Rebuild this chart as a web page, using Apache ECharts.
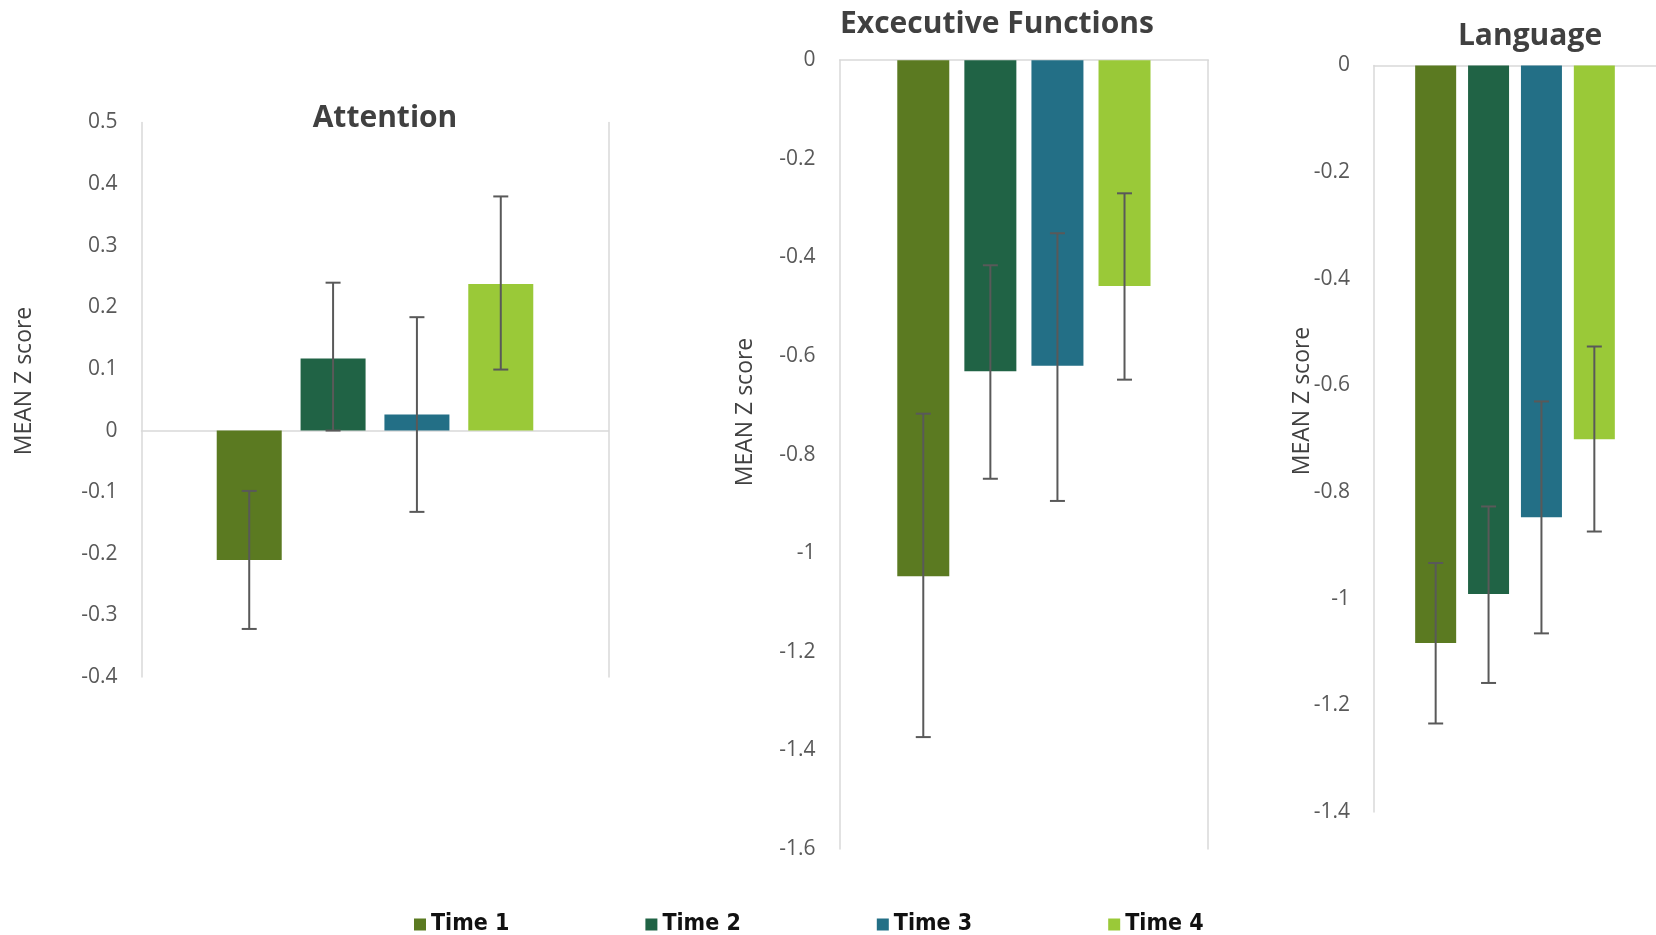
<!DOCTYPE html>
<html>
<head>
<meta charset="utf-8">
<script src="https://cdn.jsdelivr.net/npm/echarts@6/dist/echarts.min.js"></script>
<style>
html,body{margin:0;padding:0;background:#fff;}
#chart{width:1656px;height:935px;}
</style>
</head>
<body>
<div id="chart"></div>
<script>
// ---- data ----
var seriesNames = ['Time 1', 'Time 2', 'Time 3', 'Time 4'];
var panelTitles = ['Attention', 'Excecutive Functions', 'Language'];
var yAxisTitle = 'MEAN Z score';

var attentionMeans = [-0.21, 0.117, 0.026, 0.238];
var attentionLow   = [-0.322, 0.0, -0.132, 0.099];
var attentionHigh  = [-0.098, 0.24, 0.184, 0.38];

var execMeans = [-1.047, -0.631, -0.620, -0.458];
var execLow   = [-1.373, -0.849, -0.894, -0.648];
var execHigh  = [-0.717, -0.416, -0.351, -0.270];

var langMeans = [-1.083, -0.991, -0.847, -0.701];
var langLow   = [-1.234, -1.158, -1.065, -0.874];
var langHigh  = [-0.933, -0.827, -0.630, -0.527];

var attentionTicks = {min: -0.4, max: 0.5, interval: 0.1};
var execTicks = {min: -1.6, max: 0, interval: 0.2};
var langTicks = {min: -1.4, max: 0, interval: 0.2};

// ---- styles ----
var colors = ['#5B7A21', '#206345', '#236F86', '#9AC938'];
var axisGray = '#D9D9D9';
var labelGray = '#595959';
var errColor = '#595959';

var panels = [
  {title: panelTitles[0], means: attentionMeans, low: attentionLow, high: attentionHigh, ticks: attentionTicks,
   grid: {left: 141.5, top: 122.5, width: 467, height: 554.5}, barWidth: 65, gap: 0.29, rightLine: true,
   titlePos: [385, 118], namePos: [24, 381]},
  {title: panelTitles[1], means: execMeans, low: execLow, high: execHigh, ticks: execTicks,
   grid: {left: 839.6, top: 60.2, width: 368.6, height: 788.8}, barWidth: 52, gap: 0.29, rightLine: true,
   titlePos: [997, 24], namePos: [745, 412]},
  {title: panelTitles[2], means: langMeans, low: langLow, high: langHigh, ticks: langTicks,
   grid: {left: 1374, top: 65.5, width: 289, height: 746.5}, barWidth: 41, gap: 0.29, rightLine: false,
   titlePos: [1530, 36], namePos: [1302, 401]}
];

function fmt(v) { return String(Math.round(v * 10) / 10); }

var grids = [], xAxes = [], yAxes = [], series = [], graphics = [];

panels.forEach(function (p, k) {
  grids.push(p.grid);
  xAxes.push({
    type: 'category', gridIndex: k, data: ['x'],
    axisLine: {show: true, onZero: true, lineStyle: {color: axisGray, width: 1.5}},
    axisTick: {show: false}, axisLabel: {show: false}, splitLine: {show: false}
  });
  var leftIdx = yAxes.length;
  yAxes.push({
    type: 'value', gridIndex: k, min: p.ticks.min, max: p.ticks.max, interval: p.ticks.interval,
    axisLine: {show: true, lineStyle: {color: axisGray, width: 1.5}},
    axisTick: {show: false}, splitLine: {show: false},
    axisLabel: {color: labelGray, fontSize: 21, fontFamily: 'Open Sans', margin: 24, formatter: fmt,
                showMinLabel: true, showMaxLabel: true}
  });
  if (p.rightLine) {
    yAxes.push({
      type: 'value', gridIndex: k, position: 'right', min: p.ticks.min, max: p.ticks.max, interval: p.ticks.interval,
      axisLine: {show: true, lineStyle: {color: axisGray, width: 1.5}},
      axisTick: {show: false}, splitLine: {show: false}, axisLabel: {show: false}
    });
  }
  seriesNames.forEach(function (name, i) {
    series.push({
      type: 'bar', name: name, xAxisIndex: k, yAxisIndex: leftIdx,
      data: [p.means[i]], barWidth: p.barWidth, barGap: (p.gap * 100) + '%',
      itemStyle: {color: colors[i]}, z: 2
    });
  });
  var errData = p.low.map(function (lo, i) { return [0, lo, p.high[i]]; });
  (function (bw, gap) {
    series.push({
      type: 'custom', name: 'err' + k, xAxisIndex: k, yAxisIndex: leftIdx,
      data: errData, encode: {x: 0, y: [1, 2]}, z: 10, clip: false,
      renderItem: function (params, api) {
        var i = params.dataIndex;
        var a = api.coord([api.value(0), api.value(1)]);
        var b = api.coord([api.value(0), api.value(2)]);
        var off = (i - 1.5) * bw * (1 + gap);
        var x = a[0] + off, c = 7.5;
        var st = {stroke: errColor, lineWidth: 2};
        return {type: 'group', children: [
          {type: 'line', shape: {x1: x, y1: a[1], x2: x, y2: b[1]}, style: st},
          {type: 'line', shape: {x1: x - c, y1: a[1], x2: x + c, y2: a[1]}, style: st},
          {type: 'line', shape: {x1: x - c, y1: b[1], x2: x + c, y2: b[1]}, style: st}
        ]};
      }
    });
  })(p.barWidth, p.gap);

  graphics.push({
    type: 'text', x: p.titlePos[0], y: p.titlePos[1],
    style: {text: p.title, fill: '#404040', font: 'bold 30px "Open Sans"', textAlign: 'center', textVerticalAlign: 'middle'}
  });
  graphics.push({
    type: 'text', x: p.namePos[0], y: p.namePos[1], rotation: Math.PI / 2,
    style: {text: yAxisTitle, fill: '#404040', font: '23px "Open Sans"', textAlign: 'center', textVerticalAlign: 'middle'}
  });
});

var chart = echarts.init(document.getElementById('chart'), null, {renderer: 'canvas'});
chart.setOption({
  backgroundColor: '#ffffff',
  animation: false,
  grid: grids,
  xAxis: xAxes,
  yAxis: yAxes,
  series: series,
  graphic: graphics,
  legend: {
    data: seriesNames, left: 409, top: 908, icon: 'rect', itemWidth: 12, itemHeight: 12, itemGap: 136,
    textStyle: {color: '#111', fontSize: 23, fontWeight: 'bold', fontFamily: '"Liberation Sans Narrow", "DejaVu Sans Condensed", sans-serif'}
  }
});
</script>
</body>
</html>
